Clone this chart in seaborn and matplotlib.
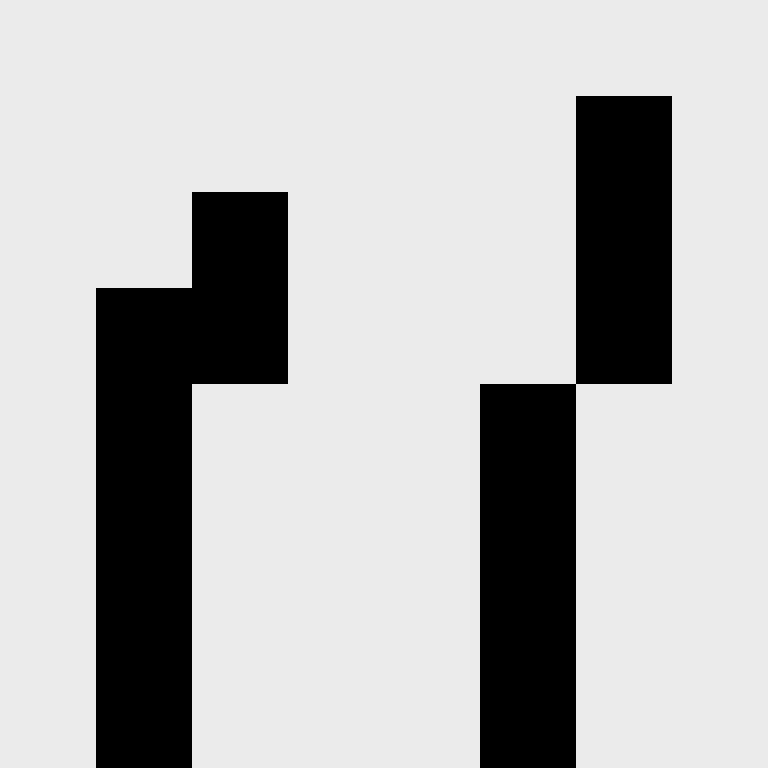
import numpy as np
import matplotlib
matplotlib.use("Agg")
import matplotlib.pyplot as plt
from matplotlib.colors import ListedColormap
import seaborn as sns

# 8x8 grid of cells, 1 = black, 0 = background
row0 = [0, 0, 0, 0, 0, 0, 0, 0]
row1 = [0, 0, 0, 0, 0, 0, 1, 0]
row2 = [0, 0, 1, 0, 0, 0, 1, 0]
row3 = [0, 1, 1, 0, 0, 0, 1, 0]
row4 = [0, 1, 0, 0, 0, 1, 0, 0]
row5 = [0, 1, 0, 0, 0, 1, 0, 0]
row6 = [0, 1, 0, 0, 0, 1, 0, 0]
row7 = [0, 1, 0, 0, 0, 1, 0, 0]

grid = np.array([row0, row1, row2, row3, row4, row5, row6, row7])

fig = plt.figure(figsize=(7.68, 7.68), dpi=100)
ax = fig.add_axes([0, 0, 1, 1])
sns.heatmap(grid, cmap=ListedColormap(["#e9ebea", "#000000"]), vmin=0, vmax=1,
            cbar=False, square=False, linewidths=0, ax=ax,
            xticklabels=False, yticklabels=False)
ax.set_axis_off()
fig.savefig("out.png", dpi=100)
